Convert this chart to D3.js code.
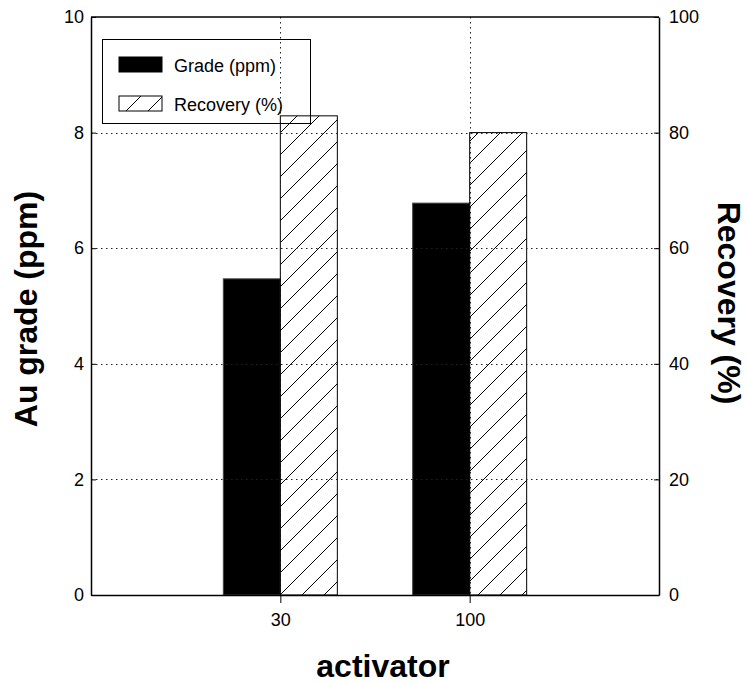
<!DOCTYPE html>
<html>
<head>
<meta charset="utf-8">
<script src="https://cdn.jsdelivr.net/npm/d3@7/dist/d3.min.js"></script>
<style>
  html, body { margin: 0; padding: 0; background: #fff; }
  svg { display: block; font-family: "Liberation Sans", Arial, sans-serif; }
</style>
</head>
<body>
<svg id="chart" width="748" height="685"></svg>
<script>
// ---- data ----
const categories = ["30", "100"];
const gradeValues = [5.47, 6.78];      // Au grade (ppm), left axis
const recoveryValues = [82.9, 80.0];   // Recovery (%), right axis
const leftTicks = [0, 2, 4, 6, 8, 10];
const rightTicks = [0, 20, 40, 60, 80, 100];
const seriesNames = ["Grade (ppm)", "Recovery (%)"];

// ---- layout ----
const W = 748, H = 685;
const m = { left: 91, right: 659, top: 17, bottom: 595 };
const svg = d3.select("#chart");

const defs = svg.append("defs");
const pat = defs.append("pattern")
  .attr("id", "hatch")
  .attr("patternUnits", "userSpaceOnUse")
  .attr("x", 17).attr("y", 0)
  .attr("width", 22).attr("height", 22);
pat.append("path")
  .attr("d", "M0,22 L22,0 M-11,11 L11,-11 M11,33 L33,11")
  .attr("stroke", "#000").attr("stroke-width", 1).attr("fill", "none");

const x = d3.scalePoint().domain(categories).range([m.left, m.right]).padding(1);
const sub = d3.scaleBand().domain(["grade", "recovery"]).range([-57, 57]).paddingInner(0);
const yL = d3.scaleLinear().domain([0, 10]).range([m.bottom, m.top]);
const yR = d3.scaleLinear().domain([0, 100]).range([m.bottom, m.top]);

// ---- bars ----
const gBars = svg.append("g");
gBars.selectAll("rect.grade").data(categories).join("rect")
  .attr("class", "grade")
  .attr("x", d => x(d) + sub("grade"))
  .attr("width", sub.bandwidth())
  .attr("y", (d, i) => yL(gradeValues[i]))
  .attr("height", (d, i) => yL(0) - yL(gradeValues[i]))
  .attr("fill", "#000").attr("stroke", "#444").attr("stroke-width", 1);

gBars.selectAll("rect.rec").data(categories).join("rect")
  .attr("class", "rec")
  .attr("x", d => x(d) + sub("recovery"))
  .attr("width", sub.bandwidth())
  .attr("y", (d, i) => yR(recoveryValues[i]))
  .attr("height", (d, i) => yR(0) - yR(recoveryValues[i]))
  .attr("fill", "url(#hatch)").attr("stroke", "#000").attr("stroke-width", 1);

// ---- gridlines (dotted) ----
const grid = svg.append("g").attr("stroke", "#222").attr("stroke-width", 1)
  .attr("stroke-dasharray", "1.5,3.5");
grid.selectAll("line.h").data(leftTicks.filter(t => t > 0 && t < 10)).join("line")
  .attr("x1", m.left).attr("x2", m.right)
  .attr("y1", d => Math.round(yL(d)) + 0.5).attr("y2", d => Math.round(yL(d)) + 0.5);
grid.selectAll("line.v").data(categories).join("line")
  .attr("y1", m.top).attr("y2", m.bottom)
  .attr("x1", d => Math.round(x(d)) + 0.5).attr("x2", d => Math.round(x(d)) + 0.5);

// ---- axes ----
const axL = svg.append("g").attr("transform", `translate(${m.left},0)`)
  .call(d3.axisLeft(yL).tickValues(leftTicks).tickSizeInner(-5).tickSizeOuter(0).tickPadding(9));
const axR = svg.append("g").attr("transform", `translate(${m.right},0)`)
  .call(d3.axisRight(yR).tickValues(rightTicks).tickSizeInner(-5).tickSizeOuter(0).tickPadding(10));
const axB = svg.append("g").attr("transform", `translate(0,${m.bottom})`)
  .call(d3.axisBottom(x).tickSizeInner(8).tickSizeOuter(0).tickPadding(10));
[axL, axR, axB].forEach(a => {
  a.selectAll("text").attr("font-size", 18).attr("fill", "#000")
    .attr("font-family", "Liberation Sans, Arial, sans-serif");
  a.selectAll("line").attr("stroke", "#000");
  a.select(".domain").attr("stroke", "#000").attr("stroke-width", 1.5);
});
axL.selectAll("text").attr("dx", 2);
// top frame line
svg.append("line").attr("x1", m.left).attr("x2", m.right)
  .attr("y1", m.top).attr("y2", m.top).attr("stroke", "#000").attr("stroke-width", 1.5);

// ---- axis titles ----
svg.append("text").attr("transform", `translate(37,309) rotate(-90)`)
  .attr("text-anchor", "middle").attr("font-size", 32).attr("font-weight", "bold")
  .text("Au grade (ppm)");
svg.append("text").attr("transform", `translate(718,303) rotate(90)`)
  .attr("text-anchor", "middle").attr("font-size", 32).attr("font-weight", "bold")
  .text("Recovery (%)");
svg.append("text").attr("x", 383).attr("y", 677)
  .attr("text-anchor", "middle").attr("font-size", 32).attr("font-weight", "bold")
  .text("activator");

// ---- legend ----
const lg = svg.append("g");
lg.append("rect").attr("x", 102.5).attr("y", 39.5).attr("width", 208).attr("height", 84)
  .attr("fill", "none").attr("stroke", "#000").attr("stroke-width", 1);
const fills = ["#000", "url(#hatch)"];
seriesNames.forEach((name, i) => {
  const yy = 57 + i * 39;
  lg.append("rect").attr("x", 119).attr("y", yy).attr("width", 43).attr("height", 15)
    .attr("fill", fills[i]).attr("stroke", "#000").attr("stroke-width", 1);
  lg.append("text").attr("x", 174).attr("y", yy + 15).attr("font-size", 18).text(name);
});
</script>
</body>
</html>
